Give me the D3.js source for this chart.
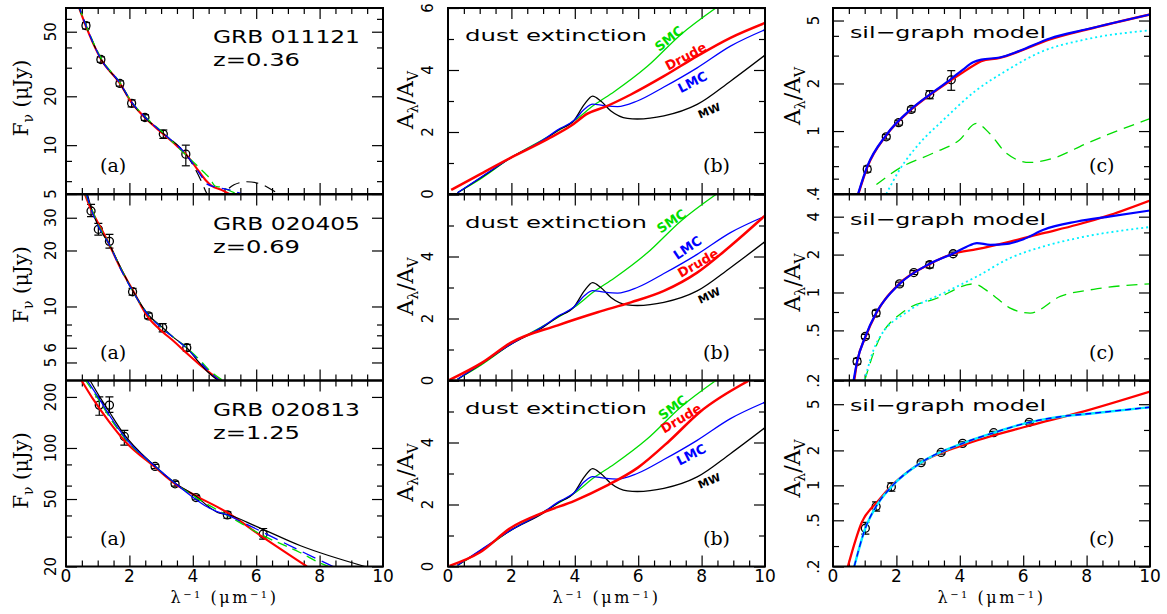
<!DOCTYPE html>
<html>
<head>
<meta charset="utf-8">
<script src="https://cdn.jsdelivr.net/npm/d3@7"></script>
<style>
  body { margin: 0; background: #fff; }
  svg { display: block; }
  text { font-family: "DejaVu Sans", sans-serif; fill: #000; }
  .serif { font-family: "DejaVu Serif", serif; }
</style>
</head>
<body>
<svg id="chart" width="1167" height="614"></svg>
<script>
// ---------- data ----------
// x = inverse wavelength (1/um) everywhere

// column (a): observed fluxes [x, F, lo, hi] and model curves [x, F]
var obs011121 = [[0.63,54.5,52,57],[1.10,33.7,32.4,35],[1.70,24.0,23.1,24.9],[2.07,18.1,17.2,19.0],[2.49,14.8,14.2,15.4],[3.07,11.7,11.0,12.4],[3.78,8.8,7.46,10.0]];
var red011121 = [[0.35,76],[0.63,54],[1.1,34],[1.7,24],[2.07,18.3],[2.49,14.8],[3.07,11.7],[3.5,9.9],[3.78,8.8],[4.1,7.3],[4.4,6.1],[4.6,5.6],[4.9,5.3],[5.15,5.0],[5.3,4.8]];
var green011121 = [[0.4,72],[0.63,55],[1.1,34.5],[1.7,24.3],[2.07,18.5],[2.49,15],[3.07,11.9],[3.78,8.7],[4.1,7.6],[4.35,6.8],[4.55,6.2],[4.7,5.6],[4.9,5.5],[5.2,5.2],[5.5,4.9]];
var blue011121 = [[0.38,74],[0.63,54.5],[1.1,34],[1.7,24.2],[2.07,18.4],[2.49,14.9],[3.07,11.8],[3.78,8.8],[4.1,7.2],[4.3,6.3],[4.45,5.75],[4.75,5.5],[5.15,5.3],[5.5,5.05],[5.7,4.9]];
var black011121 = [[0.35,76],[0.63,54.5],[1.1,34],[1.7,24],[2.07,18.3],[2.49,14.8],[3.07,11.8],[3.78,8.8],[4.05,7.3],[4.25,6.1],[4.45,5.0],[4.6,4.6],[4.85,4.6],[5.05,5.2],[5.3,5.7],[5.7,5.95],[6.1,5.8],[6.5,5.3],[6.7,5.0],[7.0,4.6]];

var obs020405 = [[0.79,32.6,30.4,35.4],[1.02,26,24.2,28],[1.37,22.4,20.6,24.4],[2.10,12.0,11.5,12.5],[2.60,8.9,8.6,9.2],[3.05,7.7,7.3,8.1],[3.81,6.0,5.75,6.25]];
var red020405 = [[0.6,40],[0.8,33],[0.97,29],[1.2,24.5],[1.39,21.1],[1.7,16.3],[2.1,12.3],[2.6,8.7],[3.05,7.3],[3.4,6.5],[3.81,5.6],[4.2,4.9],[4.43,4.55],[4.86,4.0]];
var black020405 = [[0.68,40],[0.79,34],[1.02,27],[1.37,21.5],[1.7,16.5],[2.1,12.2],[2.6,9.0],[3.05,7.7],[3.4,6.8],[3.81,6.0],[4.2,5.0],[4.5,4.4],[4.8,4.0]];
var blue020405 = [[0.65,40],[0.79,33.5],[1.02,27],[1.37,21.5],[1.7,16.2],[2.1,12.1],[2.6,9.0],[3.05,7.6],[3.81,5.95],[4.2,5.1],[4.5,4.5],[4.85,4.0]];
var green020405 = [[0.62,40],[0.79,34],[1.02,27.5],[1.37,21.5],[1.7,16.4],[2.1,12.1],[2.6,9.0],[3.05,7.6],[3.81,6.0],[4.2,5.2],[4.55,4.5],[4.95,4.0]];

var obs020813 = [[1.05,179,156,200],[1.37,179,162,200],[1.84,117,104,127],[2.81,77.8,75.5,80],[3.44,61.5,59.5,63.5],[4.10,51,49.5,52.5],[5.09,40.3,38.5,42],[6.22,31.1,29,33.5]];
var red020813 = [[0.49,250],[0.84,196],[1.37,142],[1.89,108],[2.81,77],[3.44,61.5],[4.1,52.2],[5.07,41.8],[6.22,29.7],[7.6,20]];
var black020813 = [[0.76,250],[1.03,205],[1.37,163],[1.78,124],[2.81,78],[3.44,62],[4.1,52],[4.5,45],[4.8,41.5],[5.09,40.5],[6.0,34.5],[7.4,26.5],[9.43,20]];
var blue020813 = [[0.67,250],[1.05,195],[1.37,156],[1.89,113.5],[2.81,78],[3.44,62],[4.1,49.7],[4.45,45],[4.98,40.8],[5.09,40.3]];
var blueTail020813 = [[5.09,40.3],[6.22,31.8],[7.38,24.8],[8.43,20]];
var green020813 = [[0.62,250],[1.05,190],[1.37,152],[1.89,112],[2.81,78],[3.44,62],[4.1,51],[5.09,40],[6.22,30.4],[7.38,24.2],[8.01,21],[8.28,20]];

// column (b): extinction curves A_lambda/A_V
var extMW = [[0.3,0.04],[1.0,0.5],[2.0,1.18],[3.0,1.72],[3.46,2.05],[3.98,2.38],[4.3,2.89],[4.56,3.16],[4.82,3.0],[5.14,2.68],[5.66,2.44],[5.97,2.42],[6.81,2.52],[7.86,2.89],[8.91,3.64],[10,4.48]];
var extSMC = [[0.3,0.04],[1.05,0.5],[2.0,1.18],[3.14,1.84],[3.98,2.36],[4.61,2.87],[5.24,3.3],[6.29,4.12],[7.34,5.14],[8.45,6.0]];
var extLMC = [[0.3,0.04],[1.05,0.55],[2.0,1.18],[3.0,1.75],[3.46,2.07],[3.98,2.38],[4.3,2.73],[4.56,2.9],[4.93,2.85],[5.35,2.82],[5.97,3.0],[6.81,3.45],[7.86,4.07],[8.91,4.77],[10,5.3]];
var drude011121 = [[0.1,0.13],[1.05,0.66],[2.0,1.18],[3.14,1.77],[3.88,2.2],[4.4,2.59],[4.93,2.8],[5.77,3.21],[6.81,3.8],[7.86,4.45],[8.91,5.04],[10,5.52]];
var drude020405 = [[0.05,0.02],[1.05,0.56],[2.0,1.23],[3.46,1.78],[4.72,2.2],[5.77,2.52],[6.81,2.89],[7.86,3.48],[8.91,4.34],[10,5.32]];
var drude020813 = [[0.05,0.02],[1.0,0.45],[2.0,1.26],[3.0,1.74],[3.99,2.12],[4.99,2.6],[5.99,3.19],[6.98,4.05],[7.93,4.97],[9.5,6.0]];
// label name, [x, y] in data units per row, rotation
var extNames = ["SMC", "Drude", "LMC", "MW"];
var extNameColors = ["#00dd00", "#ff0000", "#0000ff", "#000000"];
var extNamePos = [
  [[6.97,5.01],[7.5,4.44],[7.71,3.61],[8.24,2.69]],
  [[7.05,5.14],[7.89,3.79],[7.55,4.28],[8.24,2.74]],
  [[7.09,5.13],[7.35,4.78],[7.67,3.61],[8.24,2.76]]
];
var extNameAngle = [
  [-38,-28,-27,-23],
  [-34,-30,-34,-25],
  [-36,-31,-27,-23]
];

// column (c): derived extinction [x, A, lo, hi] and sil-graph model curves
var ext011121 = [[1.08,0.574,0.55,0.6],[1.68,0.92,0.89,0.95],[2.07,1.13,1.09,1.17],[2.47,1.37,1.32,1.42],[3.05,1.70,1.6,1.8],[3.73,2.11,1.81,2.41]];
var silBlue011121 = [[0.79,0.4],[1.08,0.597],[1.68,0.944],[2.47,1.38],[3.05,1.70],[3.73,2.14],[4.1,2.45],[4.42,2.72],[4.68,2.83],[5.26,2.92],[5.89,3.22],[6.84,3.85],[8.0,4.4],[10,5.46]];
var silRed011121 = [[0.8,0.4],[1.08,0.59],[1.68,0.94],[2.47,1.37],[3.05,1.69],[3.73,2.1],[4.1,2.35],[4.42,2.59],[4.68,2.77],[5.26,2.9],[5.89,3.2],[6.84,3.8],[8.0,4.38],[10,5.46]];
var silCyan011121 = [[1.68,0.4],[2.1,0.569],[2.73,0.836],[3.47,1.17],[4.52,1.81],[5.47,2.41],[6.52,3.14],[8.0,3.81],[10,4.33]];
var silGreen011121 = [[1.37,0.459],[2.1,0.583],[3.15,0.724],[3.99,0.878],[4.52,1.12],[4.94,0.966],[5.47,0.724],[6.2,0.633],[6.94,0.673],[8.0,0.836],[10,1.2]];

var ext020405 = [[0.76,0.283,0.27,0.3],[1.02,0.447,0.43,0.465],[1.36,0.686,0.65,0.72],[2.10,1.17,1.13,1.21],[2.55,1.44,1.39,1.49],[3.05,1.66,1.57,1.75],[3.79,2.03,1.97,2.09]];
var silBlue020405 = [[0.65,0.2],[0.76,0.283],[1.02,0.447],[1.36,0.686],[2.1,1.17],[3.05,1.69],[3.79,2.04],[4.2,2.3],[4.54,2.47],[4.96,2.39],[5.49,2.43],[6.01,2.65],[6.64,3.15],[7.7,3.66],[8.75,4.02],[10,4.48]];
var silRed020405 = [[0.67,0.2],[0.76,0.28],[1.02,0.44],[1.36,0.68],[2.1,1.18],[3.05,1.68],[3.79,2.03],[4.54,2.21],[5.59,2.54],[6.64,2.96],[7.7,3.45],[8.75,4.14],[10,5.38]];
var silCyan020405 = [[0.99,0.2],[1.37,0.396],[2.44,0.729],[3.49,0.99],[4.54,1.34],[5.59,1.88],[6.64,2.32],[7.7,2.7],[10,3.31]];
var silGreen020405 = [[1.0,0.2],[1.37,0.38],[2.23,0.706],[3.28,0.9],[4.44,1.17],[4.96,0.99],[5.59,0.751],[6.22,0.686],[7.17,0.93],[8.22,1.06],[10,1.17]];

var ext020813 = [[1.02,0.427,0.38,0.48],[1.36,0.658,0.6,0.72],[1.84,0.97,0.89,1.05],[2.78,1.57,1.52,1.62],[3.41,1.92,1.86,1.98],[4.09,2.3,2.23,2.37],[5.07,2.84,2.76,2.92],[6.19,3.49,3.38,3.6]];
var silRed020813 = [[0.47,0.2],[0.91,0.481],[1.39,0.717],[1.91,1.03],[2.78,1.57],[4.09,2.22],[6.19,3.26],[7.7,4.18],[10,6.43]];
var silBlue020813 = [[0.67,0.2],[1.02,0.427],[1.36,0.658],[1.84,0.97],[2.78,1.57],[4.09,2.3],[5.07,2.84],[6.19,3.49],[6.96,3.83],[8.22,4.18],[10,4.71]];

// text
var grbNames = ["GRB 011121", "GRB 020405", "GRB 020813"];
var grbZ = ["z=0.36", "z=0.69", "z=1.25"];
var xTickLabels = [0, 2, 4, 6, 8, 10];

// axis domains and tick values per row
var fluxDomain = [[5,70],[4,40],[20,250]];
var fluxLabels = [[5,10,20,50],[5,6,10,20,30],[20,50,100,200]];
var fluxMinor = [[6,8,30,40,60],[7,8],[30,40,60,80]];
var extDomain = [0, 6];
var extLabels = [[0,2,4,6],[0,2,4],[0,2,4]];
var silDomain = [[0.4,6],[0.2,6],[0.2,8]];
var silLabels = [[0.4,1,2,5],[0.2,0.5,1,2,4],[0.2,0.5,1,2,5]];
var silMinor = [[0.5,0.6,0.8,3,4],[0.3,0.7,3],[0.3,0.7,3]];

// ---------- layout ----------
var W = 317, H = 186;
var colLeft = [66, 448, 833];
var rowTop = [8, 194.5, 380.5];
var GREEN = "#00dd00", RED = "#ff0000", BLUE = "#0000ff", CYAN = "#00f0ff";

var svg = d3.select("#chart");
var defs = svg.append("defs");

function tickSet(g, axis, values, len, tx, ty) {
  var a = g.append("g").attr("transform", "translate(" + tx + "," + ty + ")")
    .call(axis.tickValues(values).tickSize(-len).tickFormat(""));
  a.select(".domain").remove();
  a.selectAll("line").attr("stroke", "#000").attr("stroke-width", 1.2);
}

function fmtSil(v) { return v < 1 ? String(v).replace(/^0/, "") : String(v); }

function drawPanel(c, r, cfg) {
  var top = rowTop[r], bottom = top + H, left = colLeft[c], right = left + W;
  var x = d3.scaleLinear().domain([0, 10]).range([left, right]);
  var y = (cfg.log ? d3.scaleLog() : d3.scaleLinear()).domain(cfg.yDomain).range([bottom, top]);
  var g = svg.append("g");
  var clipId = "clip" + c + "_" + r;
  defs.append("clipPath").attr("id", clipId).append("rect")
    .attr("x", left).attr("y", top).attr("width", W).attr("height", H);

  // x ticks: major every 2, minor every 0.5 (top and bottom)
  var xMinor = d3.range(0.5, 10, 0.5).filter(function(v){ return v % 2 !== 0; });
  var xMajor = [2, 4, 6, 8];
  tickSet(g, d3.axisBottom(x), xMinor, 6, 0, bottom);
  tickSet(g, d3.axisBottom(x), xMajor, 11, 0, bottom);
  tickSet(g, d3.axisTop(x), xMinor, 6, 0, top);
  tickSet(g, d3.axisTop(x), xMajor, 11, 0, top);
  // y ticks both sides
  tickSet(g, d3.axisLeft(y), cfg.yMinor, 6, left, 0);
  tickSet(g, d3.axisLeft(y), cfg.yMajor, 11, left, 0);
  tickSet(g, d3.axisRight(y), cfg.yMinor, 6, right, 0);
  tickSet(g, d3.axisRight(y), cfg.yMajor, 11, right, 0);

  // y tick labels, rotated
  g.selectAll(".ylab").data(cfg.yLabels).enter().append("text")
    .attr("transform", function(d){ return "translate(" + (left - cfg.labOff) + "," + y(d) + ") rotate(-90)"; })
    .attr("text-anchor", "middle").style("font-size", "15px")
    .text(cfg.fmt || String);

  // x tick labels on bottom row
  if (r === 2) {
    g.selectAll(".xlab").data(xTickLabels).enter().append("text")
      .attr("x", function(d){ return x(d); }).attr("y", bottom + 15)
      .attr("text-anchor", "middle").style("font-size", "17px")
      .text(String);
  }

  var plot = g.append("g").attr("clip-path", "url(#" + clipId + ")");
  var line = d3.line().x(function(d){ return x(d[0]); }).y(function(d){ return y(d[1]); })
    .curve(d3.curveMonotoneX);

  // observed points with error bars
  if (cfg.points) {
    var pts = plot.selectAll(".pt").data(cfg.points).enter().append("g");
    pts.append("line").attr("x1", function(d){ return x(d[0]); }).attr("x2", function(d){ return x(d[0]); })
      .attr("y1", function(d){ return y(d[2]); }).attr("y2", function(d){ return y(d[3]); })
      .attr("stroke", "#000").attr("stroke-width", 1.2);
    [2, 3].forEach(function(k){
      pts.append("line").attr("x1", function(d){ return x(d[0]) - 4; }).attr("x2", function(d){ return x(d[0]) + 4; })
        .attr("y1", function(d){ return y(d[k]); }).attr("y2", function(d){ return y(d[k]); })
        .attr("stroke", "#000").attr("stroke-width", 1.2);
    });
    pts.append("circle").attr("cx", function(d){ return x(d[0]); }).attr("cy", function(d){ return y(d[1]); })
      .attr("r", 4).attr("fill", "none").attr("stroke", "#000").attr("stroke-width", 1.3);
  }

  cfg.series.forEach(function(s){
    plot.append("path").datum(s.data).attr("d", line)
      .attr("fill", "none").attr("stroke", s.color).attr("stroke-width", s.width)
      .attr("stroke-dasharray", s.dash || null);
  });

  // frame
  g.append("rect").attr("x", left).attr("y", top).attr("width", W).attr("height", H)
    .attr("fill", "none").attr("stroke", "#000").attr("stroke-width", 2);

  return { x: x, y: y, g: g, top: top, left: left };
}

// ---------- column (a) ----------
var colA = [
  { pts: obs011121, black: black011121, blackDash: "12,7", green: green011121, blue: blue011121, red: red011121 },
  { pts: obs020405, black: black020405, blackDash: null, green: green020405, blue: blue020405, red: red020405 },
  { pts: obs020813, black: black020813, blackDash: null, green: green020813, blue: blue020813, red: red020813 }
];
colA.forEach(function(d, r){
  var series = [
    { data: d.red, color: RED, width: 2.1 },
    { data: d.black, color: "#000", width: 1.2, dash: d.blackDash },
    { data: d.green, color: GREEN, width: 1.3, dash: "10,6" },
    { data: d.blue, color: BLUE, width: 1.3, dash: r === 2 ? null : "9,7" }
  ];
  if (r === 2) series.push({ data: blueTail020813, color: BLUE, width: 1.3, dash: "14,7" });
  var p = drawPanel(0, r, {
    log: true, yDomain: fluxDomain[r], yMajor: fluxLabels[r], yMinor: fluxMinor[r],
    yLabels: fluxLabels[r], labOff: 10, points: d.pts, series: series
  });
  p.g.append("text").attr("x", 213).attr("y", p.top + 35).attr("textLength", 147)
    .attr("lengthAdjust", "spacingAndGlyphs").style("font-size", "18px").text(grbNames[r]);
  p.g.append("text").attr("x", 213).attr("y", p.top + 58).attr("textLength", 87)
    .attr("lengthAdjust", "spacingAndGlyphs").style("font-size", "18px").text(grbZ[r]);
  p.g.append("text").attr("x", 100).attr("y", p.top + 164)
    .attr("class", "serif").style("font-size", "19px").text("(a)");
});

// ---------- column (b) ----------
var drudes = [drude011121, drude020405, drude020813];
drudes.forEach(function(dr, r){
  var p = drawPanel(1, r, {
    log: false, yDomain: extDomain, yMajor: [0, 2, 4, 6], yMinor: [1, 3, 5],
    yLabels: extLabels[r], labOff: 15,
    series: [
      { data: extSMC, color: GREEN, width: 1.3 },
      { data: extMW, color: "#000", width: 1.3 },
      { data: extLMC, color: BLUE, width: 1.3 },
      { data: dr, color: RED, width: 2.5 }
    ]
  });
  p.g.append("text").attr("x", 465).attr("y", p.top + 33).attr("textLength", 182)
    .attr("lengthAdjust", "spacingAndGlyphs").style("font-size", "16px").text("dust extinction");
  p.g.append("text").attr("x", 703).attr("y", p.top + 164)
    .attr("class", "serif").style("font-size", "19px").text("(b)");
  extNames.forEach(function(n, k){
    var pos = extNamePos[r][k];
    p.g.append("text")
      .attr("transform", "translate(" + p.x(pos[0]) + "," + p.y(pos[1]) + ") rotate(" + extNameAngle[r][k] + ")")
      .attr("text-anchor", "middle").attr("dy", "0.35em")
      .style("font-size", n === "MW" ? "11px" : "13px").style("font-weight", "bold")
      .style("fill", extNameColors[k]).text(n);
  });
});

// ---------- column (c) ----------
var colC = [
  { pts: ext011121, series: [
      { data: silGreen011121, color: GREEN, width: 1.3, dash: "11,7" },
      { data: silCyan011121, color: CYAN, width: 1.8, dash: "2,3" },
      { data: silRed011121, color: RED, width: 2.3 },
      { data: silBlue011121, color: BLUE, width: 2.2 } ] },
  { pts: ext020405, series: [
      { data: silGreen020405, color: GREEN, width: 1.3, dash: "11,7" },
      { data: silCyan020405, color: CYAN, width: 1.8, dash: "2,3" },
      { data: silRed020405, color: RED, width: 2.3 },
      { data: silBlue020405, color: BLUE, width: 2.2 } ] },
  { pts: ext020813, series: [
      { data: silRed020813, color: RED, width: 2.3 },
      { data: silBlue020813, color: CYAN, width: 2.4 },
      { data: silBlue020813, color: BLUE, width: 1.4, dash: "6,4" } ] }
];
colC.forEach(function(d, r){
  var p = drawPanel(2, r, {
    log: true, yDomain: silDomain[r], yMajor: silLabels[r], yMinor: silMinor[r],
    yLabels: silLabels[r], labOff: 14, fmt: fmtSil, points: d.pts, series: d.series
  });
  p.g.append("text").attr("x", 850).attr("y", p.top + 30).attr("textLength", 196)
    .attr("lengthAdjust", "spacingAndGlyphs").style("font-size", "16px").text("sil\u2212graph model");
  p.g.append("text").attr("x", 1089).attr("y", p.top + 164)
    .attr("class", "serif").style("font-size", "19px").text("(c)");
});

// ---------- axis titles ----------
[0, 1, 2].forEach(function(r){
  var cy = rowTop[r] + 90;
  var t = svg.append("text").attr("class", "serif")
    .attr("transform", "translate(28," + cy + ") rotate(-90)")
    .attr("text-anchor", "middle").style("font-size", "20px");
  t.append("tspan").text("F");
  t.append("tspan").attr("dy", 5).style("font-size", "14px").text("\u03bd");
  t.append("tspan").attr("dy", -5).text(" (\u03bcJy)");

  [[413, 92], [800, 88]].forEach(function(pp){
    var a = svg.append("text").attr("class", "serif")
      .attr("transform", "translate(" + pp[0] + "," + (rowTop[r] + pp[1]) + ") rotate(-90)")
      .attr("text-anchor", "middle").style("font-size", "22px");
    a.append("tspan").text("A");
    a.append("tspan").attr("dy", 5).style("font-size", "14px").text("\u03bb");
    a.append("tspan").attr("dy", -5).text("/A");
    a.append("tspan").attr("dy", 5).style("font-size", "14px").text("V");
  });
});

colLeft.forEach(function(l){
  var t = svg.append("text").attr("class", "serif")
    .attr("x", l + W / 2).attr("y", 603).attr("text-anchor", "middle")
    .style("font-size", "16px").style("letter-spacing", "2.5px");
  t.append("tspan").text("\u03bb");
  t.append("tspan").attr("dy", -5).style("font-size", "10px").text("\u22121");
  t.append("tspan").attr("dy", 5).text("  (\u03bcm");
  t.append("tspan").attr("dy", -5).style("font-size", "10px").text("\u22121");
  t.append("tspan").attr("dy", 5).text(")");
});
</script>
</body>
</html>
